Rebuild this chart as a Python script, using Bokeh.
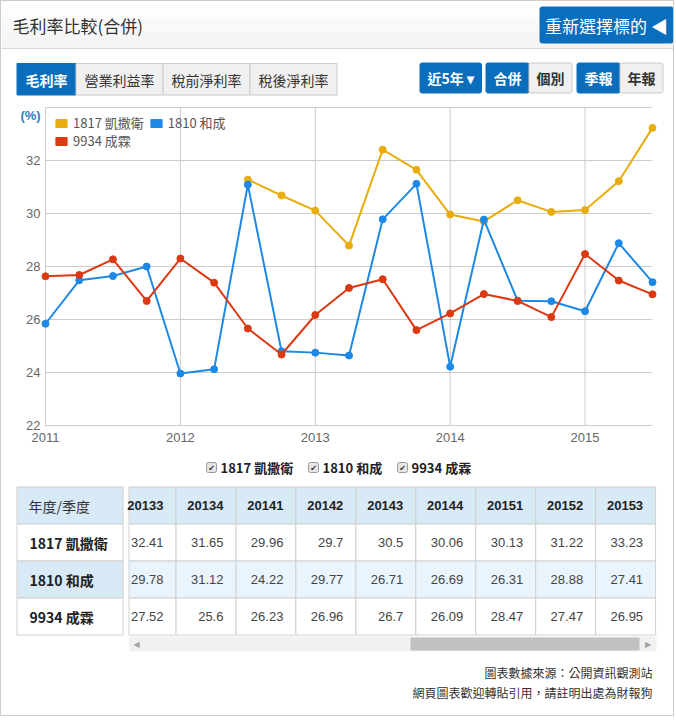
import math
import numpy as np
from bokeh.plotting import figure
from bokeh.models import Range1d, Legend, LegendItem
from bokeh.layouts import column
from bokeh.embed import file_html
from bokeh.resources import INLINE
from bokeh.core.properties import value

# ---------------- data ----------------
nan = float("nan")
quarters = ["20111", "20112", "20113", "20114", "20121", "20122", "20123", "20124",
            "20131", "20132", "20133", "20134", "20141", "20142", "20143", "20144",
            "20151", "20152", "20153"]
s1817 = [nan, nan, nan, nan, nan, nan, 31.28, 30.68, 30.11, 28.79,
         32.41, 31.65, 29.96, 29.7, 30.5, 30.06, 30.13, 31.22, 33.23]
s1810 = [25.84, 27.48, 27.64, 28.0, 23.96, 24.12, 31.09, 24.80, 24.75, 24.64,
         29.78, 31.12, 24.22, 29.77, 26.71, 26.69, 26.31, 28.88, 27.41]
s9934 = [27.63, 27.68, 28.27, 26.70, 28.30, 27.39, 25.66, 24.68, 26.17, 27.19,
         27.52, 25.6, 26.23, 26.96, 26.7, 26.09, 28.47, 27.47, 26.95]
series_names = ["1817 凱撒衛", "1810 和成", "9934 成霖"]
series_values = [s1817, s1810, s9934]
colors = ["#e8ad0d", "#1e88e5", "#dc3912"]
year_ticks = [2011, 2012, 2013, 2014, 2015]
y_ticks = [22, 24, 26, 28, 30, 32, 34]
y_unit_label = "(%)"
table_quarters = quarters[-9:]
tabs = ["毛利率", "營業利益率", "稅前淨利率", "稅後淨利率"]
right_buttons = ["近5年 ▾", "合併", "個別", "季報", "年報"]
title_text = "毛利率比較(合併)"
button_text = "重新選擇標的 ◀"
footer = ["圖表數據來源：公開資訊觀測站", "網頁圖表歡迎轉貼引用，請註明出處為財報狗"]

CJK = "Noto Sans CJK TC"
NUM = "Liberation Sans"
BLUE = "#0a6ebd"
W = 672


def deco_fig(h, top, bottom):
    f = figure(width=W, height=h, x_range=Range1d(1, 1 + W), y_range=Range1d(bottom, top),
               output_backend="svg", toolbar_location=None, min_border=0,
               x_axis_location=None, y_axis_location=None)
    f.grid.visible = False
    f.outline_line_color = None
    f.background_fill_color = "white"
    f.border_fill_color = "white"
    return f


# ---------------- header ----------------
fa = deco_fig(99, 1, 100)
nb = 16
edges = np.linspace(1, 48, nb + 1)
band_cols = []
for i in range(nb):
    t = i / (nb - 1)
    c = int(round(255 - t * 12))
    band_cols.append("#%02x%02x%02x" % (c, c, c))
fa.quad(left=1, right=1 + W, top=edges[:-1], bottom=edges[1:] + 0.5, fill_color=band_cols, line_color=None)
fa.segment(x0=[1], x1=[1 + W], y0=[48], y1=[48], line_color="#d6d6d6", line_width=1)
fa.text(x=[12], y=[25], text=[title_text], text_font=value(CJK), text_font_size="17px",
        text_baseline="middle", text_color="#333333")
fa.quad(left=[539], right=[673], top=[6], bottom=[43], fill_color=BLUE, line_color=None, border_radius=3)
fa.text(x=[606], y=[25], text=[button_text], text_font=value(CJK), text_font_size="17px",
        text_baseline="middle", text_align="center", text_color="white")

tab_edges = [16.5, 75.5, 162.5, 249.5, 336.5]
tab_fill = [BLUE, "#f0f0f0", "#f0f0f0", "#f0f0f0"]
tab_txt = ["white", "#333333", "#333333", "#333333"]
tab_style = ["bold", "normal", "normal", "normal"]
fa.quad(left=tab_edges[:-1], right=tab_edges[1:], top=63, bottom=94.5, fill_color=tab_fill,
        line_color=["#0a6ebd", "#cccccc", "#cccccc", "#cccccc"])
for i, t in enumerate(tabs):
    fa.text(x=[(tab_edges[i] + tab_edges[i + 1]) / 2], y=[79], text=[t], text_font=value(CJK),
            text_font_size="14px", text_baseline="middle", text_align="center",
            text_color=tab_txt[i], text_font_style=tab_style[i])

rb_left = [419.5, 485.5, 528.5, 576.5, 619.5]
rb_right = [481, 528.5, 571.5, 619.5, 662.5]
rb_fill = [BLUE, BLUE, "#f0f0f0", BLUE, "#f0f0f0"]
rb_txt = ["white", "white", "#333333", "white", "#333333"]
fa.quad(left=rb_left, right=rb_right, top=62.5, bottom=92.5, fill_color=rb_fill,
        line_color=["#0a6ebd", "#0a6ebd", "#cccccc", "#0a6ebd", "#cccccc"], border_radius=2)
for i, t in enumerate(right_buttons):
    fa.text(x=[(rb_left[i] + rb_right[i]) / 2], y=[77.5], text=[t], text_font=value(CJK),
            text_font_size="14px", text_baseline="middle", text_align="center",
            text_color=rb_txt[i], text_font_style="bold")

# ---------------- chart ----------------
xq = [int(q[:4]) + (int(q[4]) - 1) / 4 for q in quarters]
px_year = 607 / 4.5
px_unit = 318 / 12
x0 = year_ticks[0] - 44 / px_year
x1 = x0 + W / px_year
yy0 = y_ticks[0] - 27 / px_unit
yy1 = y_ticks[-1] + 7 / px_unit
p = figure(width=W, height=352, x_range=Range1d(x0, x1), y_range=Range1d(yy0, yy1),
           output_backend="svg", toolbar_location=None,
           x_axis_location=None, y_axis_location=None, min_border=0)
p.outline_line_color = None
p.background_fill_color = "white"
p.border_fill_color = "white"
p.grid.visible = False

# grid lines limited to the plotting span
p.segment(x0=[xq[0]] * len(y_ticks), x1=[xq[-1]] * len(y_ticks), y0=y_ticks, y1=y_ticks,
          line_color="#cccccc", line_width=1)
p.segment(x0=year_ticks, x1=year_ticks, y0=[y_ticks[0]] * len(year_ticks),
          y1=[y_ticks[-1]] * len(year_ticks), line_color="#cccccc", line_width=1)
# tick labels
p.text(x=[xq[0]] * (len(y_ticks) - 1), y=y_ticks[:-1], text=[str(t) for t in y_ticks[:-1]],
       x_offset=-5, text_align="right", text_baseline="middle", text_font=value(NUM),
       text_font_size="13px", text_color="#666666")
p.text(x=year_ticks, y=[y_ticks[0]] * len(year_ticks), text=[str(t) for t in year_ticks],
       y_offset=12, text_align="center", text_baseline="middle", text_font=value(NUM),
       text_font_size="13px", text_color="#666666")
p.text(x=[xq[0]], y=[y_ticks[-1]], text=[y_unit_label], x_offset=-15, y_offset=8,
       text_align="center", text_baseline="middle", text_font=value(NUM),
       text_font_size="13px", text_font_style="bold", text_color="#2f80c0")

for vals, c in zip(series_values, colors):
    p.line(xq, vals, line_color=c, line_width=2)
    p.scatter(xq, vals, size=7, fill_color=c, line_color=c)

dummies = [p.quad(left=[nan], right=[nan], top=[nan], bottom=[nan], fill_color=c, line_color=c)
           for c in colors]


def mk_legend(idx, loc):
    lg = Legend(items=[LegendItem(label=series_names[i], renderers=[dummies[i]]) for i in idx],
                orientation="horizontal", location=loc)
    lg.background_fill_alpha = 0
    lg.border_line_alpha = 0
    lg.padding = 0
    lg.margin = 0
    lg.spacing = 5
    lg.label_standoff = 5
    lg.glyph_width = 14
    lg.glyph_height = 10
    lg.label_height = 10
    lg.label_text_font = CJK
    lg.label_text_font_size = "13px"
    lg.label_text_color = "#555555"
    return lg


p.add_layout(mk_legend([0, 1], (53, 320)))
p.add_layout(mk_legend([2], (53, 302)))

# ---------------- table etc ----------------
fc = deco_fig(263, 452, 715)
cb_x = [206, 308, 397]
fc.quad(left=cb_x, right=[c + 10 for c in cb_x], top=462, bottom=472, fill_color="#e6e6e6",
        line_color="#9a9a9a", border_radius=2)
fc.text(x=[c + 5 for c in cb_x], y=[467.5] * 3, text=["✔"] * 3, text_font=value("DejaVu Sans"),
        text_font_size="8px", text_align="center", text_baseline="middle", text_color="#333333")
fc.text(x=[c + 14 for c in cb_x], y=[467] * 3, text=series_names, text_font=value(CJK),
        text_font_size="13px", text_font_style="bold", text_baseline="middle", text_color="#222222")

row_edges = [486.5, 523.5, 560.5, 597.5, 634.5]
row_mid = [(row_edges[i] + row_edges[i + 1]) / 2 for i in range(4)]
left_fill = ["#d9eaf7", "white", "#d9eaf7", "white"]
fc.quad(left=16.5, right=122.5, top=row_edges[:-1], bottom=row_edges[1:], fill_color=left_fill,
        line_color="#d0d0d0")
fc.text(x=[28], y=[row_mid[0]], text=["年度/季度"], text_font=value(CJK), text_font_size="14px",
        text_baseline="middle", text_color="#333333")
fc.text(x=[29] * 3, y=row_mid[1:], text=series_names, text_font=value(CJK), text_font_size="14px",
        text_font_style="bold", text_baseline="middle", text_color="#222222")

col_w = 59.95
col_right = [175.5 + k * col_w for k in range(len(table_quarters))]
col_left = [128.5] + col_right[:-1]
val_fill = ["#d9eaf7", "white", "#eaf4fc", "white"]
for r in range(4):
    fc.quad(left=col_left, right=col_right, top=row_edges[r], bottom=row_edges[r + 1],
            fill_color=val_fill[r], line_color="#d0d0d0")
tx = [c - 12.5 for c in col_right]
fc.text(x=tx, y=[row_mid[0]] * len(tx), text=table_quarters, text_font=value(NUM),
        text_font_size="13px", text_font_style="bold", text_align="right", text_baseline="middle",
        text_color="#222222")
for r, vals in enumerate(series_values):
    shown = vals[-len(table_quarters):]
    fc.text(x=tx, y=[row_mid[r + 1]] * len(tx), text=[str(v) for v in shown], text_font=value(NUM),
            text_font_size="13px", text_align="right", text_baseline="middle", text_color="#444444")

fc.quad(left=[128.5], right=[656], top=[636], bottom=[651], fill_color="#f1f1f1", line_color=None)
fc.quad(left=[410], right=[639], top=[637], bottom=[650], fill_color="#c1c1c1", line_color=None)
fc.text(x=[136, 647.5], y=[643.5, 643.5], text=["◀", "▶"], text_font=value("DejaVu Sans"),
        text_font_size="8px", text_align="center", text_baseline="middle", text_color="#a3a3a3")

fc.text(x=[652, 652], y=[672, 692], text=footer, text_font=value(CJK), text_font_size="12px",
        text_align="right", text_baseline="middle", text_color="#333333")

layout = column(fa, p, fc, styles={"border": "1px solid #cccccc"})
open("out.html", "w").write(file_html(layout, INLINE))
